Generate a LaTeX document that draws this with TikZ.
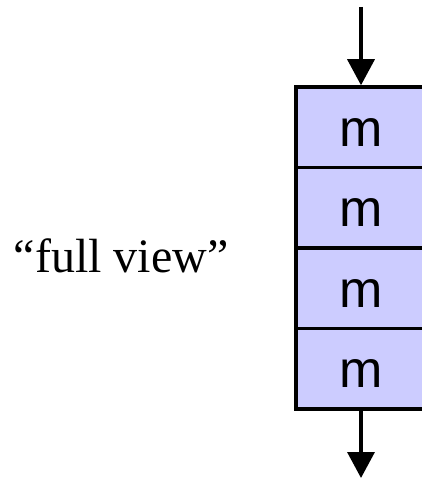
\documentclass[tikz,border=0pt]{standalone}
\usepackage{fontspec}
\setmainfont{Liberation Serif}
\newfontfamily\boxfont{Liberation Sans}
\usetikzlibrary{arrows.meta}
\definecolor{cellfill}{HTML}{CCCCFF}
\tikzset{
  cell/.style={draw=black, fill=cellfill, line width=3.5pt, minimum width=130pt,
    minimum height=80.5pt, inner sep=0pt, text height=38pt, text depth=0pt,
    font=\boxfont\fontsize{52}{52}\selectfont},
  flow/.style={line width=3.5pt, -{Triangle[width=27pt,length=26pt]}}
}
\begin{document}
\begin{tikzpicture}[x=1pt,y=-1pt]
  \useasboundingbox (0,0) rectangle (421,487);
  % stacked cells
  \node[cell] (m1) at (361,127.25) {m};
  \node[cell] (m2) at (361,207.75) {m};
  \node[cell] (m3) at (361,288.25) {m};
  \node[cell] (m4) at (361,368.75) {m};
  % input and output
  \coordinate (in) at (361,7);
  \coordinate (out) at (361,478);
  \draw[flow] (in) -- (m1.north);
  \draw[flow] (m4.south) -- (out);
  % caption
  \node[anchor=base, inner sep=0pt, font=\fontsize{48}{48}\selectfont] (cap) at (121,272) {“full view”};
\end{tikzpicture}
\end{document}
